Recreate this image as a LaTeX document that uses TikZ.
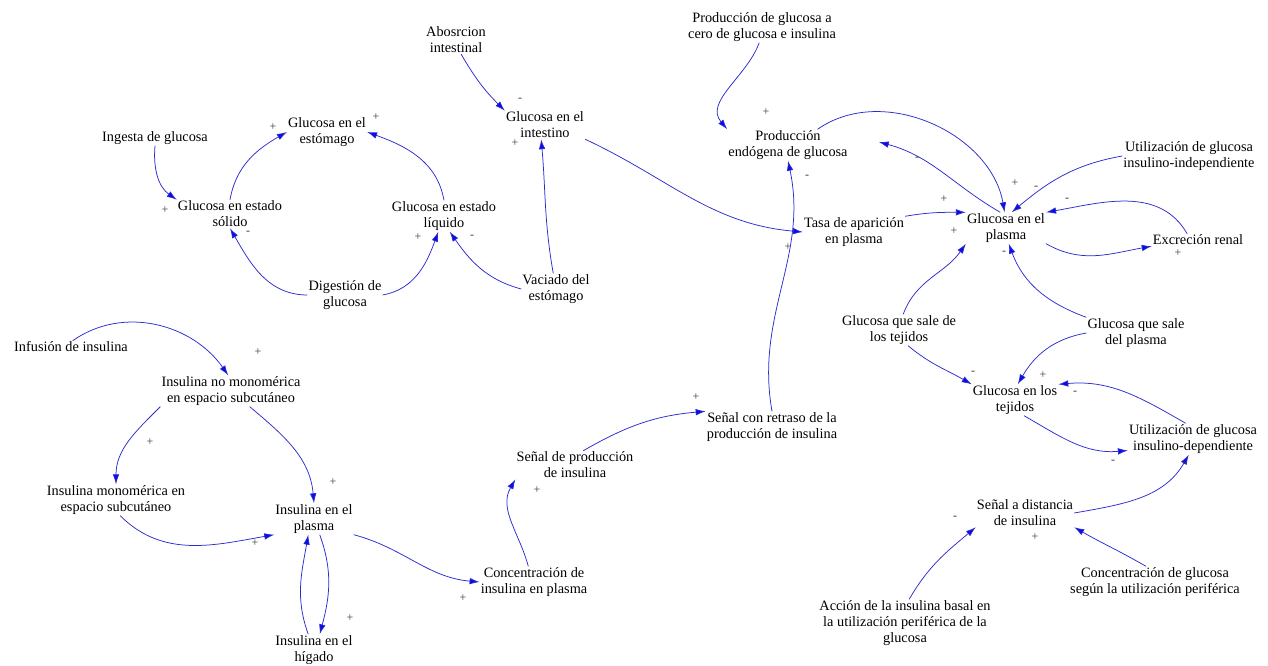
\documentclass[tikz,border=0pt]{standalone}
\usepackage{fontspec}
\setmainfont{Liberation Serif}
\usetikzlibrary{arrows.meta,calc}

\begin{document}
\begin{tikzpicture}[
    x=1pt, y=1pt,
    every node/.style={font=\fontsize{14.3}{16}\selectfont},
    var/.style={align=center, inner sep=1pt},
    link/.style={linkblue, line width=0.75pt, -{Latex[length=10pt, width=6.5pt, fill=headblue]}},
    sign/.style={font=\fontsize{12}{12}\selectfont, text=signgray, inner sep=0pt},
  ]
    \definecolor{linkblue}{HTML}{2B2BD0}
    \definecolor{headblue}{HTML}{0A0AEE}
    \definecolor{signgray}{HTML}{3A3A3A}
    \useasboundingbox (0,0) rectangle (1268,-666);

    % ---- estomago e intestino ----
    \node[var] (ingesta) at (155,-138) {Ingesta de glucosa};
    \node[var] (solido) at (230,-214) {Glucosa en estado\\sólido};
    \node[var] (estomago) at (327,-132) {Glucosa en el\\estómago};
    \node[var] (liquido) at (444,-216) {Glucosa en estado\\líquido};
    \node[var] (digestion) at (345,-295) {Digestión de\\glucosa};
    \node[var] (vaciado) at (556,-289) {Vaciado del\\estómago};
    \node[var] (absorcion) at (456,-40) {Abosrcion\\intestinal};
    \node[var] (intestino) at (545,-125) {Glucosa en el\\intestino};

    % ---- glucosa en plasma y tejidos ----
    \node[var] (cero) at (762,-27) {Producción de glucosa a\\cero de glucosa e insulina};
    \node[var] (endogena) at (788,-145) {Producción\\endógena de glucosa};
    \node[var] (tasa) at (854,-232) {Tasa de aparición\\en plasma};
    \node[var] (plasma) at (1006,-228) {Glucosa en el\\plasma};
    \node[var] (utilind) at (1189,-156) {Utilización de glucosa\\insulino-independiente};
    \node[var] (excrecion) at (1198,-240) {Excreción renal};
    \node[var] (saletej) at (899,-330) {Glucosa que sale de\\los tejidos};
    \node[var] (saleplas) at (1136,-333) {Glucosa que sale\\del plasma};
    \node[var] (tejidos) at (1015,-400) {Glucosa en los\\tejidos};
    \node[var] (utildep) at (1193,-439) {Utilización de glucosa\\insulino-dependiente};
    \node[var] (senaldist) at (1025,-513) {Señal a distancia\\de insulina};
    \node[var] (concglu) at (1155,-582) {Concentración de glucosa\\según la utilización periférica};
    \node[var] (accion) at (905,-623) {Acción de la insulina basal en\\la utilización periférica de la\\glucosa};

    % ---- insulina ----
    \node[var] (senalret) at (772,-427) {Señal con retraso de la\\producción de insulina};
    \node[var] (senalprod) at (575,-465) {Señal de producción\\de insulina};
    \node[var] (concins) at (534,-582) {Concentración de\\insulina en plasma};
    \node[var] (plasmains) at (314,-519) {Insulina en el\\plasma};
    \node[var] (higado) at (314,-650) {Insulina en el\\hígado};
    \node[var] (mono) at (116,-500) {Insulina monomérica en\\espacio subcutáneo};
    \node[var] (nomono) at (231,-391) {Insulina no monomérica\\en espacio subcutáneo};
    \node[var] (infusion) at (71,-347) {Infusión de insulina};

    % ---- links ----
    \draw[link] (ingesta.south) to[out=-95,in=145] (solido.north west);
    \draw[link] (solido.north) to[out=80,in=-150] (estomago.west);
    \draw[link] (liquido.north) to[out=100,in=-20] (estomago.east);
    \draw[link] (digestion.west) to[out=180,in=-60] (solido.south);
    \draw[link] (digestion.east) to[out=10,in=-110] (liquido.-110);
    \draw[link] (vaciado.west) to[out=165,in=-55] (liquido.-70);
    \draw[link] (vaciado.100) to[out=100,in=-85] (intestino.-105);
    \draw[link] (absorcion.-70) to[out=-60,in=135] (intestino.north west);
    \draw[link] (intestino.south east) to[out=-25,in=175] (tasa.west);

    \draw[link] (cero.-100) to[out=-110,in=130] (endogena.north west);
    \draw[link] (endogena.28) to[out=35,in=100] (plasma.95);
    \draw[link] (plasma.110) to[out=150,in=-15] ($(endogena.east)+(30,3)$);
    \draw[link] (utilind.west) to[out=190,in=40] (plasma.70);
    \draw[link] (excrecion.150) to[out=120,in=10] (plasma.north east);
    \draw[link] (plasma.south east) to[out=-30,in=190] (excrecion.south west);
    \draw[link] (tasa.north east) to[out=10,in=180] (plasma.north west);
    \draw[link] (saletej.75) to[out=70,in=-125] (plasma.south west);
    \draw[link] (saleplas.north west) to[out=160,in=-70] (plasma.-80);
    \draw[link] (saletej.-60) to[out=-40,in=150] (tejidos.north west);
    \draw[link] (saleplas.west) to[out=190,in=60] (tejidos.80);
    \draw[link] (utildep.115) to[out=150,in=5] (tejidos.north east);
    \draw[link] (tejidos.-60) to[out=-30,in=185] (utildep.190);
    \draw[link] (senaldist.east) to[out=10,in=-120] (utildep.-105);
    \draw[link] (concglu.120) to[out=150,in=-30] (senaldist.south east);
    \draw[link] (accion.80) to[out=60,in=-140] (senaldist.south west);

    \draw[link] (concins.110) to[out=105,in=-120] (senalprod.south west);
    \draw[link] (senalprod.60) to[out=30,in=185] (senalret.north west);
    \draw[link] (senalret.north) to[out=100,in=-78] (endogena.south);
    \draw[link] (plasmains.south east) to[out=-15,in=175] (concins.west);
    \draw[link] (plasmains.-70) to[out=-70,in=75] (higado.70);
    \draw[link] (higado.110) to[out=110,in=-100] (plasmains.-110);
    \draw[link] (mono.-75) to[out=-45,in=190] (plasmains.south west);
    \draw[link] (nomono.-40) to[out=-40,in=95] (plasmains.north);
    \draw[link] (nomono.south west) to[out=-135,in=90] (mono.north);
    \draw[link] (infusion.75) to[out=35,in=125] (nomono.100);

    % ---- polarities ----
    \foreach \sx/\sy/\sg [count=\i] in {
        165/210/+, 273/127/+, 376/117/+, 248/233/-, 418/237/+, 472/237/-,
        520/100/-, 515/143/+, 788/247/+, 766/112/+, 917/159/-, 807/177/-,
        1015/183/+, 1036/188/-, 1067/200/-, 944/199/+, 954/231/+, 1004/253/-,
        1178/253/+, 973/373/-, 1043/375/+, 1075/393/-, 1113/462/-, 1185/465/-,
        1035/537/+, 955/518/-, 537/490/+, 696/397/+, 463/598/+, 350/618/+,
        255/543/+, 333/482/+, 150/442/+, 258/352/+}
      \node[sign] (sg\i) at (\sx,-\sy) {\sg};
\end{tikzpicture}
\end{document}
